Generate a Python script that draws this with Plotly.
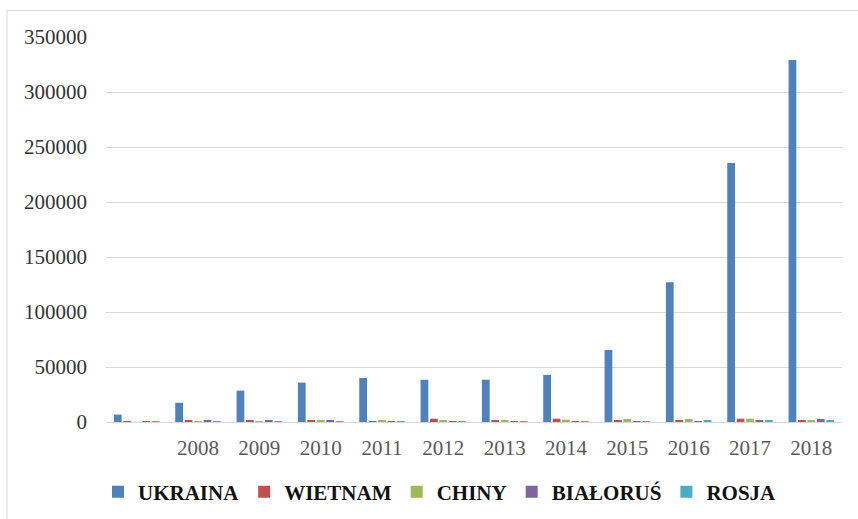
import plotly.graph_objects as go

years = ["2007", "2008", "2009", "2010", "2011", "2012", "2013", "2014", "2015", "2016", "2017", "2018"]
tick_labels = ["", "2008", "2009", "2010", "2011", "2012", "2013", "2014", "2015", "2016", "2017", "2018"]

ukraina = [6700, 17500, 28500, 35800, 40000, 38400, 38400, 42800, 65500, 127000, 235500, 329000]
wietnam = [900, 1800, 1800, 1500, 900, 3000, 1500, 3000, 1800, 1800, 3000, 1800]
chiny = [0, 900, 900, 1500, 1800, 1800, 1800, 2100, 2700, 2700, 3000, 1800]
bialorus = [900, 1800, 1800, 1500, 900, 900, 900, 900, 900, 900, 1500, 2700]
rosja = [900, 900, 900, 900, 900, 900, 900, 900, 900, 1500, 1500, 1800]

series = [
    ("UKRAINA", ukraina, "#4F81BD"),
    ("WIETNAM", wietnam, "#C0504D"),
    ("CHINY", chiny, "#9BBB59"),
    ("BIAŁORUŚ", bialorus, "#8064A2"),
    ("ROSJA", rosja, "#4BACC6"),
]

SERIF = "Liberation Serif, Times New Roman, Tinos, serif"

fig = go.Figure()
for name, vals, col in series:
    fig.add_trace(go.Bar(x=years, y=vals, name=name, marker=dict(color=col, line=dict(width=0))))

L, R, T, B = 106, 16, 37, 97
W, H = 858, 519
pw = W - L - R
ph = H - T - B

fig.update_layout(
    width=W, height=H,
    margin=dict(l=L, r=R, t=T, b=B, pad=0, autoexpand=False),
    paper_bgcolor="white", plot_bgcolor="white",
    barmode="group", bargap=0.23, bargroupgap=0.18,
    font=dict(family=SERIF, size=21, color="#404040"),
    legend=dict(
        orientation="h", x=0.5 - 34 / pw, xanchor="center", y=(422 - 492) / ph, yanchor="middle",
        font=dict(family=SERIF, size=21, color="#111111", weight="bold"),
        itemwidth=30, traceorder="normal",
    ),
    showlegend=True,
)
fig.update_xaxes(
    type="category", tickvals=years, ticktext=tick_labels,
    showgrid=False, showline=True, linecolor="#d9d9d9", linewidth=1,
    ticks="", ticklabelstandoff=7,
    tickfont=dict(family=SERIF, size=21, color="#595959"),
)
fig.update_yaxes(
    range=[0, 350000], tick0=0, dtick=50000, tickformat="d",
    showgrid=True, gridcolor="#d9d9d9", gridwidth=1,
    zeroline=False, showline=False, ticks="", ticklabelstandoff=18,
    tickfont=dict(family=SERIF, size=21, color="#333333"),
)
fig.add_shape(
    type="rect", xref="paper", yref="paper",
    x0=(7 - L) / pw, x1=(W + 20 - L) / pw,
    y0=(422 - (H + 20)) / ph, y1=(422 - 10.5) / ph,
    line=dict(color="#d9d9d9", width=1), fillcolor="rgba(0,0,0,0)", layer="below",
)

fig.write_html("out.html")
